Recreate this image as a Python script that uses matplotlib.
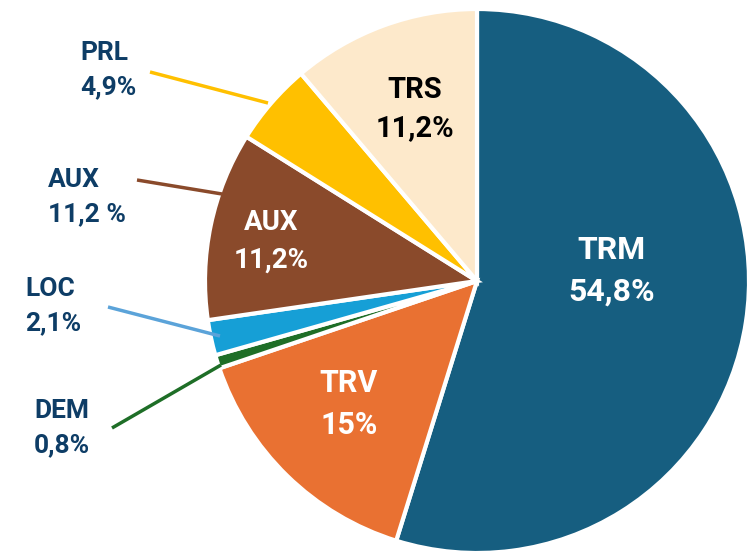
import matplotlib
matplotlib.use("Agg")
import matplotlib.pyplot as plt
import numpy as np

# ---- data ----
categories = ["TRM", "TRV", "DEM", "LOC", "AUX", "PRL", "TRS"]
values = [54.8, 15.0, 0.8, 2.1, 11.2, 4.9, 11.2]
inside_labels = {"TRM": "TRM\n54,8%", "TRV": "TRV\n15%", "AUX": "AUX\n11,2%", "TRS": "TRS\n11,2%"}
outside_labels = {"PRL": "PRL\n4,9%", "AUX": "AUX\n11,2 %", "LOC": "LOC\n2,1%", "DEM": "DEM\n0,8%"}

# ---- styles / layout ----
colors = ["#165E80", "#E97132", "#1E6E27", "#169FD6", "#8A4A2B", "#FFC000", "#FDE9CB"]
W, H = 756, 553
center_px = (477, 281)
radius = 272
navy = "#0E3D66"
plt.rcParams['font.family'] = ['Roboto', 'DejaVu Sans']

fig = plt.figure(figsize=(W / 100, H / 100), dpi=100)
ax = fig.add_axes([0, 0, 1, 1])
ax.set_xlim(0, W)
ax.set_ylim(0, H)
ax.axis("off")

def P(x, y):
    return (x, H - y)

explode = [4 / radius] + [0] * (len(values) - 1)
wedges, _ = ax.pie(values, colors=colors, startangle=90, counterclock=False,
                   center=P(*center_px), radius=radius, explode=explode,
                   wedgeprops=dict(edgecolor="white", linewidth=3))
ax.set_xlim(0, W)
ax.set_ylim(0, H)
ax.set_aspect("equal")

# inside labels
inside_pos = {"TRM": (612, 271), "TRV": (349, 404), "AUX": (271, 241), "TRS": (415, 109)}
inside_col = {"TRM": "white", "TRV": "white", "AUX": "white", "TRS": "black"}
inside_size = {"TRM": 23, "TRV": 22, "AUX": 20, "TRS": 21}
for k, txt in inside_labels.items():
    ax.text(*P(*inside_pos[k]), txt, ha="center", va="center", color=inside_col[k],
            fontsize=inside_size[k], fontweight="bold", linespacing=1.5)

# outside labels with leader lines
out_pos = {"PRL": (80, 70), "AUX": (48, 197), "LOC": (25, 306), "DEM": (34, 428)}
line_pts = {"PRL": ((150, 72), (268, 103)), "AUX": ((137, 180), (222, 194)),
            "LOC": ((108, 307), (220, 336)), "DEM": ((112, 428), (221, 365))}
line_col = {"PRL": "#FFC000", "AUX": "#8A4A2B", "LOC": "#5BA3D9", "DEM": "#1E6E27"}
for k, txt in outside_labels.items():
    ax.text(*P(*out_pos[k]), txt, ha="left", va="center", color=navy,
            fontsize=19, fontweight="bold", linespacing=1.55)
    (x0, y0), (x1, y1) = line_pts[k]
    ax.plot([x0, x1], [H - y0, H - y1], color=line_col[k], lw=2.5, solid_capstyle="butt")

fig.savefig("out.png", dpi=100)
